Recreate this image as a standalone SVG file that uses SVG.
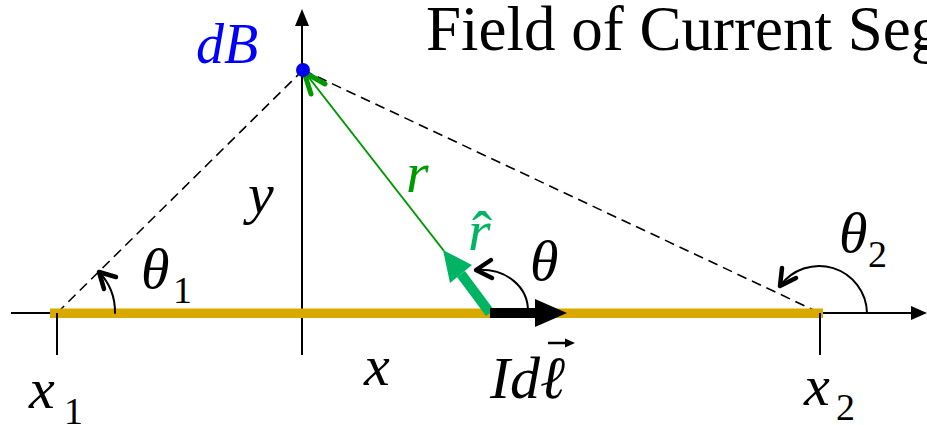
<svg xmlns="http://www.w3.org/2000/svg" width="927" height="425" viewBox="0 0 927 425">
<rect width="927" height="425" fill="#fff"/>
<g id="connectors" stroke="#000">
  <line stroke-width="1.6" stroke-dasharray="10 6" x1="57" y1="313" x2="303" y2="70"/>
  <line stroke-width="1.6" stroke-dasharray="10 6" x1="303" y1="70" x2="820" y2="313"/>
  <line stroke-width="2" x1="11" y1="313" x2="912" y2="313"/>
  <polygon stroke="none" points="927,313 911,306 911,320" fill="#000"/>
  <line stroke-width="2" x1="302" y1="355" x2="302" y2="24"/>
  <polygon stroke="none" points="302,9 295,26 309,26" fill="#000"/>
</g>
<g id="segment">
  <rect x="50" y="308.5" width="773" height="9.5" fill="#D9A900"/>
  <line x1="57" y1="313" x2="57" y2="355" stroke="#000" stroke-width="2"/>
  <line x1="820" y1="313" x2="820" y2="355" stroke="#000" stroke-width="2"/>
</g>
<g id="r-vector">
  <line x1="303" y1="70" x2="444" y2="251" stroke="#009900" stroke-width="2"/>
  <path d="M311,94 L304,72 L325,84" fill="none" stroke="#009900" stroke-width="5" stroke-linecap="round" stroke-linejoin="round"/>
</g>
<g id="rhat-vector">
  <line x1="490" y1="313" x2="461" y2="274" stroke="#00B464" stroke-width="10"/>
  <polygon points="443,250 472,265 450,283" fill="#00B464"/>
</g>
<g id="Idl-vector">
  <rect x="490" y="308" width="47" height="10" fill="#000"/>
  <polygon points="567,313 535,299 535,327" fill="#000"/>
</g>
<g id="angles" stroke="#000" fill="none" stroke-linecap="round" stroke-linejoin="round">
  <path stroke-width="2" d="M115,313 A58,58 0 0 0 99,272"/>
  <path stroke-width="4.5" d="M104,289 L99,272 L116,277"/>
  <path stroke-width="2" d="M528,311 C528,288 508,268 476,270"/>
  <path stroke-width="4.5" d="M491,260 L476,270 L492,278"/>
  <path stroke-width="2" d="M867,313 A48,48 0 0 0 780,286"/>
  <path stroke-width="4.5" d="M796,278 L780,286 L782,268"/>
</g>
<g id="dB-point">
  <circle cx="303" cy="70" r="7" fill="#0000EE"/>
</g>
<line x1="548" y1="343" x2="566" y2="343" stroke="#000" stroke-width="2.5"/>
<polygon points="575,343 565,338.5 565,347.5" fill="#000"/>
<text x="426" y="50" font-size="63" font-family="Liberation Serif">Field of Current Seg</text>
<text x="196" y="63" font-size="56" font-style="italic" fill="#0000FF" font-family="Liberation Serif">dB</text>
<text x="248" y="213" font-size="58" font-style="italic" font-family="Liberation Serif">y</text>
<text x="406" y="192" font-size="58" font-style="italic" fill="#009900" font-family="Liberation Serif">r</text>
<text x="468" y="250" font-size="58" font-style="italic" fill="#00B464" font-family="Liberation Serif">r</text>
<text x="472" y="252" font-size="60" fill="#00B464" font-family="Liberation Serif">ˆ</text>
<text x="530" y="280" font-size="58" font-style="italic" font-family="Liberation Serif">θ</text>
<text x="141" y="288" font-size="58" font-style="italic" font-family="Liberation Serif">θ</text>
<text x="173" y="303" font-size="38" font-family="Liberation Serif">1</text>
<text x="839" y="252" font-size="58" font-style="italic" font-family="Liberation Serif">θ</text>
<text x="868" y="267" font-size="38" font-family="Liberation Serif">2</text>
<text x="364" y="385" font-size="58" font-style="italic" font-family="Liberation Serif">x</text>
<text x="490" y="398" font-size="60" font-style="italic" font-family="Liberation Serif">Idℓ</text>
<text x="29" y="408" font-size="58" font-style="italic" font-family="Liberation Serif">x</text>
<text x="64" y="424" font-size="38" font-family="Liberation Serif">1</text>
<text x="804" y="405" font-size="58" font-style="italic" font-family="Liberation Serif">x</text>
<text x="836" y="420" font-size="38" font-family="Liberation Serif">2</text>
</svg>
